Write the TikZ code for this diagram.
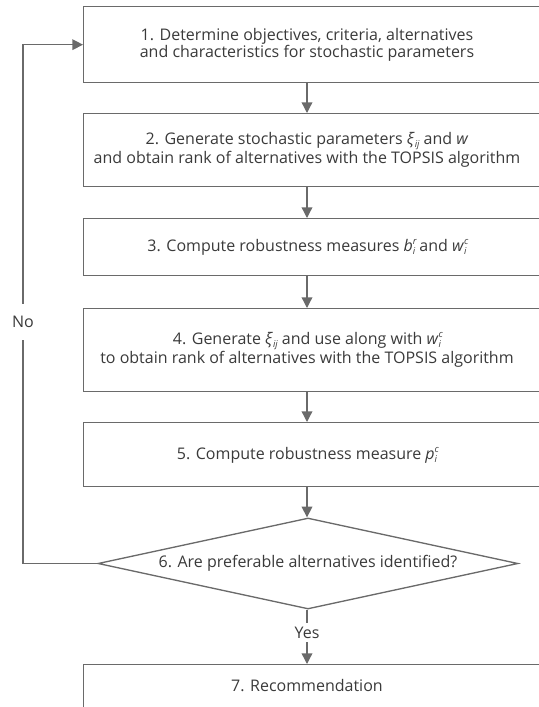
\documentclass[tikz,border=0pt]{standalone}
\usepackage{fontspec}
\setmainfont{Open Sans}
\usetikzlibrary{arrows.meta,shapes.geometric}
\definecolor{ln}{HTML}{6A6A6A}
\definecolor{tx}{HTML}{3A3A3A}
\newcommand{\ssub}[2]{\textit{#1}\raisebox{-2.5pt}{\fontsize{7}{7}\selectfont\itshape #2}}
\newcommand{\sboth}[3]{\textit{#1}\rlap{\raisebox{5pt}{\fontsize{7}{7}\selectfont\itshape #3}}\raisebox{-2.5pt}{\fontsize{7}{7}\selectfont\itshape #2}}
\begin{document}
\begin{tikzpicture}[x=0.75pt,y=-0.75pt,
  line/.style={draw=ln,line width=1pt},
  arr/.style={line,-{Triangle[length=8pt,width=8pt]}},
  boxs/.style={line,rectangle,minimum width=387.75pt,anchor=north west,inner sep=0pt},
  txt/.style={text=tx,align=center,font=\fontsize{12}{10.8}\selectfont},
  lbl/.style={txt,fill=white,inner xsep=2pt,inner ysep=9pt}]
\useasboundingbox (0,0) rectangle (539,707);
\clip (0,0) rectangle (539,707);
\coordinate (ax) at (307,0);
\coordinate (lc) at (23,0);
\node[boxs,minimum height=57pt] (b1) at (83,6) {};
\node[txt] (t1) at (307,45) {1. Determine objectives, criteria, alternatives\\and characteristics for stochastic parameters};
\node[boxs,minimum height=54.75pt] (b2) at (83,113) {};
\node[txt] (t2) at (307,150) {2. Generate stochastic parameters \ssub{ξ}{ij} and \textit{w}\\and obtain rank of alternatives with the TOPSIS algorithm};
\node[boxs,minimum height=42.75pt] (b3) at (83,218) {};
\node[txt] (t3) at (307,247) {3. Compute robustness measures \sboth{b}{i}{r} and \sboth{w}{i}{c}};
\node[boxs,minimum height=62.25pt] (b4) at (83,308) {};
\node[txt] (t4) at (307,350) {4. Generate \ssub{ξ}{ij} and use along with \sboth{w}{i}{c}\\to obtain rank of alternatives with the TOPSIS algorithm};
\node[boxs,minimum height=48pt] (b5) at (83,422) {};
\node[txt] (t5) at (307,455) {5. Compute robustness measure \sboth{p}{i}{c}};
\node[line,txt,diamond,aspect=4.615,minimum width=315pt,minimum height=68.25pt,inner sep=0pt] (d) at (308,563.5) {6. Are preferable alternatives identified?};
\node[boxs,minimum height=45pt] (b7) at (83,664) {};
\node[txt] (t7) at (307,686) {7. Recommendation};
\draw[arr] (b1.south -| ax) -- (b2.north -| ax);
\draw[arr] (b2.south -| ax) -- (b3.north -| ax);
\draw[arr] (b3.south -| ax) -- (b4.north -| ax);
\draw[arr] (b4.south -| ax) -- (b5.north -| ax);
\draw[arr] (b5.south -| ax) -- (d.north -| ax);
\draw[arr] (d.south -| ax) -- node[lbl,pos=0.42,inner ysep=3pt]{Yes} (b7.north -| ax);
\draw[arr] (d.west) -- (d.west -| lc) -- node[lbl,pos=0.466]{No} (b1.west -| lc) -- (b1.west);
\end{tikzpicture}
\end{document}
